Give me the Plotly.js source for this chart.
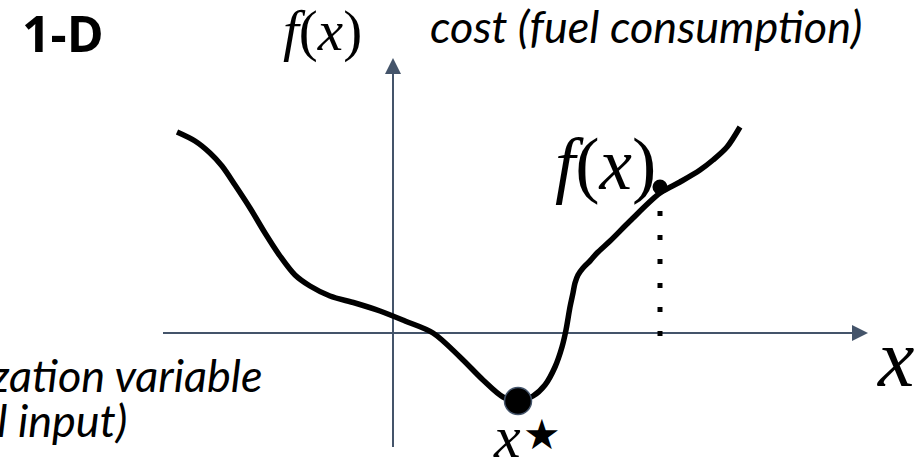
<!DOCTYPE html>
<html>
<head>
<meta charset="utf-8">
<script src="https://cdn.plot.ly/plotly-3.0.1.min.js"></script>
<style>html,body{margin:0;padding:0;background:#fff;}#chart{width:921px;height:473px;}</style>
</head>
<body>
<div id="chart"></div>
<script>
// Cost curve f(x) (units: diagram pixels, origin at axes crossing)
const curveX = [-216,-198,-183,-171,-158,-143,-128,-113,-98,-83,-63,-38,-13,12,40,67,90,110,125,140,152,162,169,173,177,180,182,185,190,197,204,217,237,267,287,307,320,334,347];
const curveY = [201,192,180,167,148,125,100,77,58,47,37,30,22,12,0,-24,-47,-64,-68,-63,-52,-34,-14,3,26,40,50,58,65,72,80,92,112,140,151,163,173,186,206];
// minimum x*
const minX = [125];
const minY = [-68];
// sample point f(x)
const sampleX = [267];
const sampleY = [146];
// axes extents
const xAxisFrom = [-230, 0];
const xAxisTo = [475, 0];
const yAxisFrom = [0, -114];
const yAxisTo = [0, 275];
// labels
const labelTitle = '1-D';
const labelCost = 'cost (fuel consumption)';
const labelVar1 = 'optimization variable';
const labelVar2 = '(control input)';

const axisColor = '#44546A';

const traces = [
  {x:[xAxisFrom[0], xAxisTo[0]-14], y:[xAxisFrom[1], xAxisTo[1]], mode:'lines', line:{color:axisColor, width:2}, hoverinfo:'skip'},
  {x:[yAxisFrom[0], yAxisTo[0]], y:[yAxisFrom[1], yAxisTo[1]-14], mode:'lines', line:{color:axisColor, width:2}, hoverinfo:'skip'},
  {x:[xAxisTo[0]], y:[xAxisTo[1]], mode:'markers', marker:{symbol:'arrow-right', size:16, color:axisColor, line:{width:0}}, hoverinfo:'skip'},
  {x:[yAxisTo[0]], y:[yAxisTo[1]], mode:'markers', marker:{symbol:'arrow-up', size:16, color:axisColor, line:{width:0}}, hoverinfo:'skip'},
  {x:[sampleX[0], sampleX[0]], y:[sampleY[0]-24, -4], mode:'lines', line:{color:'#000', width:5, dash:'5px,19px'}, hoverinfo:'skip'},
  {x:curveX, y:curveY, mode:'lines', line:{color:'#000', width:5.5, shape:'spline', smoothing:0.9}, hoverinfo:'skip'},
  {x:sampleX, y:sampleY, mode:'markers', marker:{size:15, color:'#000', line:{width:0}}, hoverinfo:'skip'},
  {x:minX, y:minY, mode:'markers', marker:{size:27, color:'#000', line:{width:1.5, color:axisColor}}, hoverinfo:'skip'}
];

const serif = 'Liberation Serif, Times New Roman, serif';
const sans = 'Lato, Open Sans, sans-serif';

const layout = {
  width:921, height:473,
  margin:{l:0, r:0, t:0, b:0},
  paper_bgcolor:'#fff', plot_bgcolor:'#fff',
  showlegend:false,
  xaxis:{range:[-393, 528], visible:false, fixedrange:true},
  yaxis:{range:[-140, 333], visible:false, fixedrange:true},
  annotations:[
    {x:-373, y:300, xref:'x', yref:'y', text:'<b>'+labelTitle+'</b>', showarrow:false, xanchor:'left', yanchor:'middle', font:{family:'Open Sans, sans-serif', size:50, color:'#000'}},
    {x:35, y:307, xref:'x', yref:'y', text:'<i>'+labelCost+'</i>', showarrow:false, xanchor:'left', yanchor:'middle', font:{family:sans, size:45, color:'#000'}},
    {x:-128, y:-42, xref:'x', yref:'y', text:'<i>'+labelVar1+'</i>', showarrow:false, xanchor:'right', yanchor:'middle', font:{family:sans, size:45, color:'#000'}},
    {x:-264, y:-87, xref:'x', yref:'y', text:'<i>'+labelVar2+'</i>', showarrow:false, xanchor:'right', yanchor:'middle', font:{family:sans, size:45, color:'#000'}},
    {x:-112, y:302, xref:'x', yref:'y', text:'<i>f</i>(<i>x</i>)', showarrow:false, xanchor:'left', yanchor:'middle', font:{family:serif, size:57, color:'#000'}},
    {x:160, y:169, xref:'x', yref:'y', text:'<i>f</i>(<i>x</i>)', showarrow:false, xanchor:'left', yanchor:'middle', font:{family:serif, size:73, color:'#000'}},
    {x:98, y:-104, xref:'x', yref:'y', text:'<i>x</i>', showarrow:false, xanchor:'left', yanchor:'middle', font:{family:serif, size:60, color:'#000'}},
    {x:149, y:-101, xref:'x', yref:'y', text:'★', showarrow:false, xanchor:'center', yanchor:'middle', font:{family:'DejaVu Sans, sans-serif', size:42, color:'#000'}},
    {x:482, y:-25, xref:'x', yref:'y', text:'<i>x</i>', showarrow:false, xanchor:'left', yanchor:'middle', font:{family:serif, size:82, color:'#000'}}
  ]
};

Plotly.newPlot('chart', traces, layout, {staticPlot:true, displayModeBar:false});
</script>
</body>
</html>
